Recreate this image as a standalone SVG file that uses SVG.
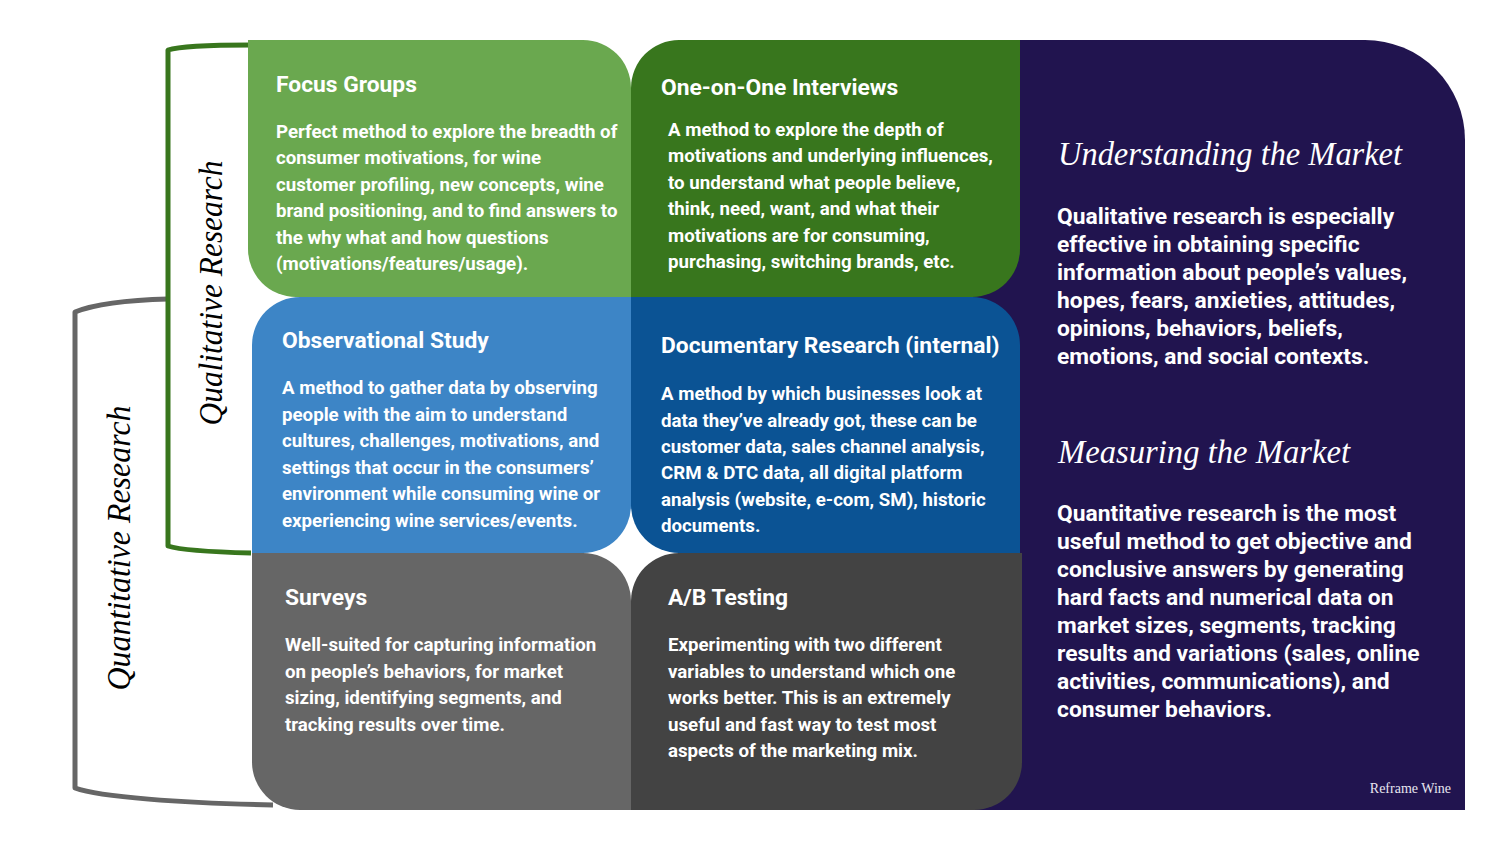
<svg xmlns="http://www.w3.org/2000/svg" width="1500" height="845" viewBox="0 0 1500 845">
<style>
.t{font-family:Roboto,"Liberation Sans",sans-serif;font-weight:700;fill:#ffffff;font-size:22.8px}
.b{font-family:Roboto,"Liberation Sans",sans-serif;font-weight:700;fill:#ffffff;font-size:18.7px}
.rb{font-family:Roboto,"Liberation Sans",sans-serif;font-weight:700;fill:#ffffff;font-size:22.8px}
.s{font-family:"Liberation Serif",serif;font-style:italic;font-size:34px}
.br{fill:none;stroke-width:5;stroke-linecap:butt;stroke-linejoin:round}
</style>
<rect width="1500" height="845" fill="#ffffff"/>
<g id="brackets">
<path class="br" stroke="#666666" d="M168,299 C130,300 95,304 75,312 V788 C100,797 180,803 273,805"/>
<path class="br" stroke="#38761d" d="M251,45 C210,45 180,46 168,50 V546 C180,550 210,552 251,553"/>
<text class="s" fill="#000000" transform="translate(222,293) rotate(-90)" text-anchor="middle" textLength="265" lengthAdjust="spacingAndGlyphs">Qualitative Research</text>
<text class="s" fill="#000000" transform="translate(130,548) rotate(-90)" text-anchor="middle" textLength="285" lengthAdjust="spacingAndGlyphs">Quantitative Research</text>
</g>
<g id="market-panel">
<path fill="#21144f" d="M940,40 H1365 A100,100 0 0 1 1465,140 V810 H940 Z"/>
<text class="s" fill="#ffffff" x="1058" y="165" textLength="344" lengthAdjust="spacingAndGlyphs">Understanding the Market</text>
<text class="rb"><tspan x="1057" y="224">Qualitative research is especially</tspan><tspan x="1057" y="252">effective in obtaining specific</tspan><tspan x="1057" y="280">information about people’s values,</tspan><tspan x="1057" y="308">hopes, fears, anxieties, attitudes,</tspan><tspan x="1057" y="336">opinions, behaviors, beliefs,</tspan><tspan x="1057" y="364">emotions, and social contexts.</tspan></text>
<text class="s" fill="#ffffff" x="1058" y="463" textLength="292" lengthAdjust="spacingAndGlyphs">Measuring the Market</text>
<text class="rb"><tspan x="1057" y="521">Quantitative research is the most</tspan><tspan x="1057" y="549">useful method to get objective and</tspan><tspan x="1057" y="577">conclusive answers by generating</tspan><tspan x="1057" y="605">hard facts and numerical data on</tspan><tspan x="1057" y="633">market sizes, segments, tracking</tspan><tspan x="1057" y="661">results and variations (sales, online</tspan><tspan x="1057" y="689">activities, communications), and</tspan><tspan x="1057" y="717">consumer behaviors.</tspan></text>
<text x="1451" y="793" text-anchor="end" font-family="Liberation Serif,serif" font-size="14" fill="#e8e6f0">Reframe Wine</text>
</g>
<g id="focus-groups">
<path fill="#6aa84f" d="M248,40 H583 A48,48 0 0 1 631,88 V297 H296 A48,48 0 0 1 248,249 Z"/>
<text class="t" x="276" y="92">Focus Groups</text>
<text class="b"><tspan x="276" y="138">Perfect method to explore the breadth of</tspan><tspan x="276" y="164">consumer motivations, for wine</tspan><tspan x="276" y="191">customer profiling, new concepts, wine</tspan><tspan x="276" y="217">brand positioning, and to find answers to</tspan><tspan x="276" y="244">the why what and how questions</tspan><tspan x="276" y="270">(motivations/features/usage).</tspan></text>
</g>
<g id="one-on-one-interviews">
<path fill="#38761d" d="M679,40 H1020 V249 A48,48 0 0 1 972,297 H631 V88 A48,48 0 0 1 679,40 Z"/>
<text class="t" x="661" y="95">One-on-One Interviews</text>
<text class="b"><tspan x="668" y="136">A method to explore the depth of</tspan><tspan x="668" y="162">motivations and underlying influences,</tspan><tspan x="668" y="189">to understand what people believe,</tspan><tspan x="668" y="215">think, need, want, and what their</tspan><tspan x="668" y="242">motivations are for consuming,</tspan><tspan x="668" y="268">purchasing, switching brands, etc.</tspan></text>
</g>
<g id="observational-study">
<path fill="#3d85c6" d="M300,297 H631 V505 A48,48 0 0 1 583,553 H252 V345 A48,48 0 0 1 300,297 Z"/>
<text class="t" x="282" y="348">Observational Study</text>
<text class="b"><tspan x="282" y="394">A method to gather data by observing</tspan><tspan x="282" y="421">people with the aim to  understand</tspan><tspan x="282" y="447">cultures, challenges, motivations, and</tspan><tspan x="282" y="474">settings that occur in the consumers’</tspan><tspan x="282" y="500">environment while consuming wine or</tspan><tspan x="282" y="527">experiencing wine services/events.</tspan></text>
</g>
<g id="documentary-research">
<path fill="#0b5394" d="M631,297 H972 A48,48 0 0 1 1020,345 V553 H679 A48,48 0 0 1 631,505 Z"/>
<text class="t" x="661" y="353">Documentary Research (internal)</text>
<text class="b"><tspan x="661" y="400">A method by which businesses look at</tspan><tspan x="661" y="427">data they’ve already got, these can be</tspan><tspan x="661" y="453">customer data, sales channel analysis,</tspan><tspan x="661" y="479">CRM &amp; DTC data, all digital platform</tspan><tspan x="661" y="506">analysis (website, e-com, SM), historic</tspan><tspan x="661" y="532">documents.</tspan></text>
</g>
<g id="surveys">
<path fill="#666666" d="M252,553 H583 A48,48 0 0 1 631,601 V810 H300 A48,48 0 0 1 252,762 Z"/>
<text class="t" x="285" y="605">Surveys</text>
<text class="b"><tspan x="285" y="651">Well-suited for capturing information</tspan><tspan x="285" y="678">on people’s behaviors, for market</tspan><tspan x="285" y="704">sizing, identifying segments, and</tspan><tspan x="285" y="731">tracking results over time.</tspan></text>
</g>
<g id="ab-testing">
<path fill="#434343" d="M679,553 H1022 V762 A48,48 0 0 1 974,810 H631 V601 A48,48 0 0 1 679,553 Z"/>
<text class="t" x="668" y="605">A/B Testing</text>
<text class="b"><tspan x="668" y="651">Experimenting with two different</tspan><tspan x="668" y="678">variables to understand which one</tspan><tspan x="668" y="704">works better. This is an extremely</tspan><tspan x="668" y="731">useful and fast way to test most</tspan><tspan x="668" y="757">aspects of the marketing mix.</tspan></text>
</g>
</svg>
